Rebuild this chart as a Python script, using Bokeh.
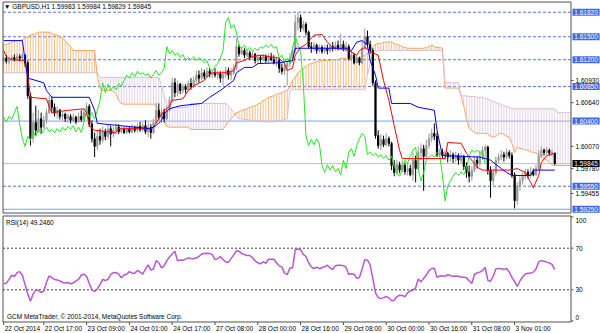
from bokeh.plotting import figure
from bokeh.layouts import column
from bokeh.models import Range1d, Label
from bokeh.embed import file_html
from bokeh.resources import INLINE

# ---------------- data ----------------
bars = list(range(1, 208))

opens = [1.6119, 1.6122, 1.6118, 1.6120, 1.6123, 1.6120, 1.6124, 1.6122, 1.6126, 1.6116,
         1.6073, 1.6017, 1.6038, 1.6028, 1.6043, 1.6032, 1.6041, 1.6051, 1.6067, 1.6058,
         1.6050, 1.6054, 1.6046, 1.6049, 1.6043, 1.6046, 1.6041, 1.6045, 1.6039, 1.6046,
         1.6042, 1.6051, 1.6059, 1.6036, 1.6017, 1.6007, 1.6020, 1.6015, 1.6026, 1.6020,
         1.6030, 1.6023, 1.6028, 1.6032, 1.6026, 1.6029, 1.6025, 1.6030, 1.6026, 1.6032,
         1.6028, 1.6033, 1.6029, 1.6034, 1.6026, 1.6032, 1.6025, 1.6038, 1.6054, 1.6045,
         1.6051, 1.6043, 1.6054, 1.6067, 1.6090, 1.6077, 1.6088, 1.6080, 1.6085, 1.6081,
         1.6089, 1.6085, 1.6093, 1.6100, 1.6096, 1.6103, 1.6098, 1.6105, 1.6101, 1.6103,
         1.6100, 1.6102, 1.6096, 1.6101, 1.6106, 1.6100, 1.6103, 1.6109, 1.6137, 1.6128,
         1.6132, 1.6126, 1.6129, 1.6123, 1.6127, 1.6119, 1.6123, 1.6120, 1.6124, 1.6119,
         1.6123, 1.6120, 1.6116, 1.6119, 1.6109, 1.6105, 1.6111, 1.6115, 1.6122, 1.6132,
         1.6169, 1.6175, 1.6161, 1.6166, 1.6156, 1.6137, 1.6135, 1.6139, 1.6132, 1.6136,
         1.6131, 1.6135, 1.6132, 1.6137, 1.6135, 1.6139, 1.6136, 1.6140, 1.6135, 1.6137,
         1.6122, 1.6126, 1.6116, 1.6122, 1.6116, 1.6135, 1.6150, 1.6140, 1.6132, 1.6090,
         1.6021, 1.6008, 1.6016, 1.6009, 1.6017, 1.6011, 1.5982, 1.5973, 1.5983, 1.5976,
         1.5982, 1.5974, 1.5978, 1.5970, 1.5989, 1.5978, 1.5999, 1.6004, 1.5994, 1.6008,
         1.6017, 1.6024, 1.6020, 1.5996, 1.6000, 1.5995, 1.5998, 1.5993, 1.5996, 1.5991,
         1.5995, 1.5989, 1.5994, 1.5981, 1.5973, 1.5968, 1.5976, 1.5989, 1.5985, 1.5995,
         1.6002, 1.6006, 1.5976, 1.5962, 1.5973, 1.5989, 1.5993, 1.5996, 1.5993, 1.5999,
         1.5995, 1.5970, 1.5936, 1.5955, 1.5962, 1.5968, 1.5973, 1.5969, 1.5974, 1.5970,
         1.5978, 1.5995, 1.6002, 1.5999, 1.6002, 1.5998, 1.59983]

highs = [1.6124, 1.6126, 1.6123, 1.6126, 1.6127, 1.6128, 1.6127, 1.6129, 1.6127, 1.6119,
         1.6077, 1.6051, 1.6060, 1.6054, 1.6051, 1.6047, 1.6056, 1.6073, 1.6072, 1.6063,
         1.6059, 1.6056, 1.6052, 1.6051, 1.6050, 1.6049, 1.6050, 1.6047, 1.6051, 1.6054,
         1.6056, 1.6064, 1.6062, 1.6041, 1.6025, 1.6028, 1.6030, 1.6033, 1.6030, 1.6036,
         1.6034, 1.6033, 1.6038, 1.6036, 1.6033, 1.6032, 1.6034, 1.6033, 1.6036, 1.6034,
         1.6037, 1.6039, 1.6038, 1.6041, 1.6038, 1.6036, 1.6043, 1.6064, 1.6063, 1.6056,
         1.6056, 1.6060, 1.6072, 1.6097, 1.6096, 1.6093, 1.6090, 1.6089, 1.6088, 1.6093,
         1.6096, 1.6098, 1.6106, 1.6106, 1.6109, 1.6107, 1.6110, 1.6109, 1.6107, 1.6109,
         1.6106, 1.6105, 1.6106, 1.6111, 1.6110, 1.6109, 1.6114, 1.6148, 1.6140, 1.6137,
         1.6135, 1.6133, 1.6132, 1.6131, 1.6129, 1.6127, 1.6126, 1.6128, 1.6127, 1.6128,
         1.6129, 1.6126, 1.6124, 1.6122, 1.6115, 1.6116, 1.6119, 1.6129, 1.6137, 1.6179,
         1.6182, 1.6179, 1.6171, 1.6169, 1.6158, 1.6143, 1.6143, 1.6141, 1.6140, 1.6139,
         1.6139, 1.6140, 1.6141, 1.6143, 1.6144, 1.6145, 1.6154, 1.6145, 1.6143, 1.6140,
         1.6132, 1.6129, 1.6126, 1.6124, 1.6145, 1.6161, 1.6158, 1.6145, 1.6135, 1.6093,
         1.6028, 1.6023, 1.6021, 1.6024, 1.6020, 1.6013, 1.5989, 1.5989, 1.5987, 1.5989,
         1.5986, 1.5985, 1.5983, 1.5999, 1.5995, 1.6007, 1.6011, 1.6009, 1.6015, 1.6024,
         1.6030, 1.6037, 1.6025, 1.6004, 1.6004, 1.6002, 1.6000, 1.6002, 1.5999, 1.6000,
         1.5998, 1.5999, 1.5996, 1.5986, 1.5982, 1.5981, 1.5995, 1.5994, 1.6002, 1.6007,
         1.6009, 1.6008, 1.5981, 1.5978, 1.5994, 1.5998, 1.6002, 1.6000, 1.6004, 1.6002,
         1.5999, 1.5973, 1.5960, 1.5968, 1.5973, 1.5978, 1.5977, 1.5980, 1.5978, 1.5983,
         1.6002, 1.6007, 1.6004, 1.6006, 1.6004, 1.6003, 1.59984]

lows = [1.6115, 1.6115, 1.6114, 1.6118, 1.6118, 1.6119, 1.6118, 1.6119, 1.6111, 1.6069,
        1.6008, 1.6012, 1.6021, 1.6025, 1.6023, 1.6030, 1.6036, 1.6049, 1.6051, 1.6046,
        1.6043, 1.6042, 1.6041, 1.6039, 1.6038, 1.6037, 1.6038, 1.6036, 1.6038, 1.6039,
        1.6039, 1.6047, 1.6032, 1.6012, 1.5993, 1.6002, 1.6009, 1.6011, 1.6015, 1.6016,
        1.6007, 1.6019, 1.6023, 1.6023, 1.6024, 1.6023, 1.6023, 1.6024, 1.6024, 1.6025,
        1.6025, 1.6026, 1.6026, 1.6023, 1.6019, 1.6017, 1.6023, 1.6036, 1.6041, 1.6037,
        1.6038, 1.6041, 1.6051, 1.6064, 1.6071, 1.6072, 1.6075, 1.6076, 1.6076, 1.6079,
        1.6081, 1.6083, 1.6089, 1.6090, 1.6093, 1.6094, 1.6096, 1.6097, 1.6096, 1.6097,
        1.6094, 1.6090, 1.6086, 1.6096, 1.6094, 1.6093, 1.6100, 1.6106, 1.6124, 1.6126,
        1.6122, 1.6123, 1.6120, 1.6120, 1.6115, 1.6116, 1.6116, 1.6118, 1.6116, 1.6116,
        1.6118, 1.6114, 1.6111, 1.6103, 1.6101, 1.6100, 1.6086, 1.6110, 1.6116, 1.6129,
        1.6158, 1.6156, 1.6157, 1.6152, 1.6135, 1.6129, 1.6131, 1.6128, 1.6129, 1.6128,
        1.6128, 1.6127, 1.6129, 1.6131, 1.6132, 1.6132, 1.6133, 1.6131, 1.6132, 1.6119,
        1.6118, 1.6114, 1.6115, 1.6113, 1.6114, 1.6132, 1.6136, 1.6128, 1.6086, 1.6017,
        1.6004, 1.6002, 1.6006, 1.6007, 1.6007, 1.5976, 1.5968, 1.5969, 1.5972, 1.5973,
        1.5970, 1.5969, 1.5968, 1.5962, 1.5960, 1.5976, 1.5989, 1.5949, 1.5991, 1.6004,
        1.6012, 1.6015, 1.5993, 1.5993, 1.5991, 1.5989, 1.5986, 1.5987, 1.5985, 1.5986,
        1.5983, 1.5985, 1.5976, 1.5966, 1.5960, 1.5962, 1.5973, 1.5978, 1.5981, 1.5989,
        1.5991, 1.5970, 1.5940, 1.5956, 1.5969, 1.5985, 1.5989, 1.5987, 1.5990, 1.5991,
        1.5966, 1.5926, 1.5931, 1.5949, 1.5957, 1.5964, 1.5965, 1.5966, 1.5968, 1.5968,
        1.5976, 1.5991, 1.5995, 1.5996, 1.5995, 1.5994, 1.59829]

closes = [1.6122, 1.6118, 1.6120, 1.6123, 1.6120, 1.6124, 1.6122, 1.6126, 1.6116, 1.6073,
          1.6017, 1.6038, 1.6028, 1.6043, 1.6032, 1.6041, 1.6051, 1.6067, 1.6058, 1.6050,
          1.6054, 1.6046, 1.6049, 1.6043, 1.6046, 1.6041, 1.6045, 1.6039, 1.6046, 1.6042,
          1.6051, 1.6059, 1.6036, 1.6017, 1.6007, 1.6020, 1.6015, 1.6026, 1.6020, 1.6030,
          1.6023, 1.6028, 1.6032, 1.6026, 1.6029, 1.6025, 1.6030, 1.6026, 1.6032, 1.6028,
          1.6033, 1.6029, 1.6034, 1.6026, 1.6032, 1.6025, 1.6038, 1.6054, 1.6045, 1.6051,
          1.6043, 1.6054, 1.6067, 1.6090, 1.6077, 1.6088, 1.6080, 1.6085, 1.6081, 1.6089,
          1.6085, 1.6093, 1.6100, 1.6096, 1.6103, 1.6098, 1.6105, 1.6101, 1.6103, 1.6100,
          1.6102, 1.6096, 1.6101, 1.6106, 1.6100, 1.6103, 1.6109, 1.6137, 1.6128, 1.6132,
          1.6126, 1.6129, 1.6123, 1.6127, 1.6119, 1.6123, 1.6120, 1.6124, 1.6119, 1.6123,
          1.6120, 1.6116, 1.6119, 1.6109, 1.6105, 1.6111, 1.6115, 1.6122, 1.6132, 1.6169,
          1.6175, 1.6161, 1.6166, 1.6156, 1.6137, 1.6135, 1.6139, 1.6132, 1.6136, 1.6131,
          1.6135, 1.6132, 1.6137, 1.6135, 1.6139, 1.6136, 1.6140, 1.6135, 1.6137, 1.6122,
          1.6126, 1.6116, 1.6122, 1.6116, 1.6135, 1.6150, 1.6140, 1.6132, 1.6090, 1.6021,
          1.6008, 1.6016, 1.6009, 1.6017, 1.6011, 1.5982, 1.5973, 1.5983, 1.5976, 1.5982,
          1.5974, 1.5978, 1.5970, 1.5989, 1.5978, 1.5999, 1.6004, 1.5994, 1.6008, 1.6017,
          1.6024, 1.6020, 1.5996, 1.6000, 1.5995, 1.5998, 1.5993, 1.5996, 1.5991, 1.5995,
          1.5989, 1.5994, 1.5981, 1.5973, 1.5968, 1.5976, 1.5989, 1.5985, 1.5995, 1.6002,
          1.6006, 1.5976, 1.5962, 1.5973, 1.5989, 1.5993, 1.5996, 1.5993, 1.5999, 1.5995,
          1.5970, 1.5936, 1.5955, 1.5962, 1.5968, 1.5973, 1.5969, 1.5974, 1.5970, 1.5978,
          1.5995, 1.6002, 1.5999, 1.6002, 1.5998, 1.5999, 1.59845]

# Tenkan-sen (red) vertices: bar index, price
tenkan_bar = [1, 2, 4, 9, 10, 11, 17, 18, 19, 25, 31, 32, 33, 35, 43, 44, 56, 57, 59, 61,
              63, 64, 68, 70, 72, 76, 77, 79, 85, 87, 88, 91, 93, 97, 104, 106, 107, 109, 110, 112,
              114, 117, 120, 122, 124, 130, 133, 134, 136, 139, 141, 143, 145, 147, 149, 150, 166, 167, 172, 174,
              175, 178, 180, 190, 193, 196, 198, 199, 201, 202, 204, 207]
tenkan_val = [1.6132, 1.6124, 1.6120, 1.6119, 1.6100, 1.6071, 1.6069, 1.6059, 1.6051, 1.6054,
              1.6056, 1.6051, 1.6034, 1.6028, 1.6025, 1.6030, 1.6030, 1.6032, 1.6043, 1.6054,
              1.6059, 1.6067, 1.6069, 1.6080, 1.6086, 1.6093, 1.6098, 1.6103, 1.6103, 1.6106,
              1.6116, 1.6119, 1.6123, 1.6126, 1.6122, 1.6115, 1.6106, 1.6109, 1.6126, 1.6136,
              1.6140, 1.6152, 1.6153, 1.6143, 1.6136, 1.6132, 1.6126, 1.6132, 1.6136, 1.6129,
              1.6126, 1.6093, 1.6067, 1.6034, 1.6002, 1.5991, 1.5991, 1.6012, 1.6011, 1.5998,
              1.5993, 1.5980, 1.5976, 1.5976, 1.5978, 1.5973, 1.5960, 1.5953, 1.5969, 1.5986,
              1.5995, 1.5998]

# Kijun-sen (blue) vertices: bar index, price
kijun_bar = [1, 8, 9, 10, 16, 17, 19, 33, 35, 36, 56, 58, 60, 61, 63, 67, 75, 78, 82, 87,
             88, 91, 94, 96, 104, 109, 110, 129, 131, 133, 135, 137, 138, 140, 141, 145, 146, 153, 156, 162,
             163, 165, 179, 183, 187, 189, 191, 198, 199, 207]
kijun_val = [1.6145, 1.6145, 1.6119, 1.6096, 1.6090, 1.6080, 1.6071, 1.6071, 1.6054, 1.6037,
             1.6030, 1.6034, 1.6041, 1.6050, 1.6056, 1.6060, 1.6063, 1.6071, 1.6080, 1.6093,
             1.6103, 1.6110, 1.6110, 1.6115, 1.6116, 1.6119, 1.6135, 1.6135, 1.6132, 1.6143,
             1.6145, 1.6139, 1.6119, 1.6100, 1.6083, 1.6083, 1.6063, 1.6063, 1.6058, 1.6054,
             1.6028, 1.5995, 1.5993, 1.5989, 1.5978, 1.5973, 1.5969, 1.5969, 1.5976, 1.5976]

# Chikou span (green): closes drawn 26 bars back, bars 1..181
chikou_bar = list(range(1, 182))
chikou_val = [1.6045, 1.6039, 1.6046, 1.6042,
              1.6051, 1.6059, 1.6036, 1.6017, 1.6007, 1.6020, 1.6015, 1.6026, 1.6020, 1.6030,
              1.6023, 1.6028, 1.6032, 1.6026, 1.6029, 1.6025, 1.6030, 1.6026, 1.6032, 1.6028,
              1.6033, 1.6029, 1.6034, 1.6026, 1.6032, 1.6025, 1.6038, 1.6054, 1.6045, 1.6051,
              1.6043, 1.6054, 1.6067, 1.6090, 1.6077, 1.6088, 1.6080, 1.6085, 1.6081, 1.6089,
              1.6085, 1.6093, 1.6100, 1.6096, 1.6103, 1.6098, 1.6105, 1.6101, 1.6103, 1.6100,
              1.6102, 1.6096, 1.6101, 1.6106, 1.6100, 1.6103, 1.6109, 1.6137, 1.6128, 1.6132,
              1.6126, 1.6129, 1.6123, 1.6127, 1.6119, 1.6123, 1.6120, 1.6124, 1.6119, 1.6123,
              1.6120, 1.6116, 1.6119, 1.6109, 1.6105, 1.6111, 1.6115, 1.6122, 1.6132, 1.6169,
              1.6175, 1.6161, 1.6166, 1.6156, 1.6137, 1.6135, 1.6139, 1.6132, 1.6136, 1.6131,
              1.6135, 1.6132, 1.6137, 1.6135, 1.6139, 1.6136, 1.6140, 1.6135, 1.6137, 1.6122,
              1.6126, 1.6116, 1.6122, 1.6116, 1.6135, 1.6150, 1.6140, 1.6132, 1.6090, 1.6021,
              1.6008, 1.6016, 1.6009, 1.6017, 1.6011, 1.5982, 1.5973, 1.5983, 1.5976, 1.5982,
              1.5974, 1.5978, 1.5970, 1.5989, 1.5978, 1.5999, 1.6004, 1.5994, 1.6008, 1.6017,
              1.6024, 1.6020, 1.5996, 1.6000, 1.5995, 1.5998, 1.5993, 1.5996, 1.5991, 1.5995,
              1.5989, 1.5994, 1.5981, 1.5973, 1.5968, 1.5976, 1.5989, 1.5985, 1.5995, 1.6002,
              1.6006, 1.5976, 1.5962, 1.5973, 1.5989, 1.5993, 1.5996, 1.5993, 1.5999, 1.5995,
              1.5970, 1.5936, 1.5955, 1.5962, 1.5968, 1.5973, 1.5969, 1.5974, 1.5970, 1.5978,
              1.5995, 1.6002, 1.5999, 1.6002, 1.5998, 1.5999, 1.59845]

# Senkou spans (cloud), bars 1..213
cloud_bar = list(range(1, 214))
span_a = [1.6139, 1.6140, 1.6141, 1.6143, 1.6144, 1.6145, 1.6145, 1.6146, 1.6148, 1.6150,
          1.6152, 1.6153, 1.6154, 1.6156, 1.6156, 1.6156, 1.6156, 1.6156, 1.6154, 1.6153,
          1.6152, 1.6150, 1.6148, 1.6145, 1.6141, 1.6137, 1.6132, 1.6132, 1.6132, 1.6132,
          1.6132, 1.6132, 1.6132, 1.6132, 1.6132, 1.6098, 1.6083, 1.6080, 1.6080, 1.6080,
          1.6080, 1.6079, 1.6075, 1.6067, 1.6063, 1.6062, 1.6062, 1.6062, 1.6062, 1.6062,
          1.6062, 1.6062, 1.6062, 1.6062, 1.6062, 1.6062, 1.6062, 1.6060, 1.6054, 1.6047,
          1.6041, 1.6033, 1.6032, 1.6032, 1.6032, 1.6032, 1.6032, 1.6032, 1.6032, 1.6032,
          1.6029, 1.6029, 1.6029, 1.6029, 1.6029, 1.6029, 1.6029, 1.6029, 1.6029, 1.6029,
          1.6029, 1.6029, 1.6029, 1.6034, 1.6039, 1.6043, 1.6047, 1.6051, 1.6052, 1.6054,
          1.6055, 1.6056, 1.6058, 1.6059, 1.6060, 1.6062, 1.6064, 1.6067, 1.6068, 1.6071,
          1.6072, 1.6073, 1.6075, 1.6076, 1.6077, 1.6079, 1.6080, 1.6085, 1.6093, 1.6097,
          1.6103, 1.6106, 1.6109, 1.6111, 1.6114, 1.6115, 1.6116, 1.6118, 1.6118, 1.6119,
          1.6119, 1.6119, 1.6119, 1.6120, 1.6120, 1.6120, 1.6122, 1.6122, 1.6122, 1.6122,
          1.6122, 1.6122, 1.6122, 1.6123, 1.6124, 1.6126, 1.6129, 1.6133, 1.6137, 1.6140,
          1.6141, 1.6141, 1.6143, 1.6143, 1.6143, 1.6143, 1.6141, 1.6140, 1.6139, 1.6137,
          1.6136, 1.6135, 1.6135, 1.6135, 1.6135, 1.6135, 1.6135, 1.6135, 1.6136, 1.6137,
          1.6139, 1.6137, 1.6136, 1.6136, 1.6135, 1.6083, 1.6083, 1.6083, 1.6083, 1.6083,
          1.6083, 1.6073, 1.6060, 1.6043, 1.6030, 1.6028, 1.6025, 1.6024, 1.6024, 1.6024,
          1.6024, 1.6023, 1.6020, 1.6019, 1.6020, 1.6023, 1.6024, 1.6023, 1.6020, 1.6019,
          1.6011, 1.5999, 1.6006, 1.6004, 1.6004, 1.6002, 1.6002, 1.6000, 1.5999, 1.5998,
          1.5996, 1.5995, 1.5991, 1.5989, 1.5986, 1.5983, 1.5982, 1.5982, 1.5982, 1.5982,
          1.5982, 1.5982, 1.5982]
span_b = [1.6103, 1.6103, 1.6103, 1.6103, 1.6103, 1.6103, 1.6103, 1.6103, 1.6103, 1.6103,
          1.6103, 1.6103, 1.6103, 1.6103, 1.6103, 1.6103, 1.6103, 1.6103, 1.6103, 1.6103,
          1.6103, 1.6103, 1.6103, 1.6103, 1.6103, 1.6103, 1.6103, 1.6103, 1.6103, 1.6103,
          1.6103, 1.6103, 1.6103, 1.6103, 1.6103, 1.6103, 1.6097, 1.6097, 1.6097, 1.6097,
          1.6097, 1.6097, 1.6097, 1.6097, 1.6097, 1.6097, 1.6097, 1.6097, 1.6097, 1.6097,
          1.6097, 1.6097, 1.6097, 1.6097, 1.6097, 1.6097, 1.6097, 1.6097, 1.6097, 1.6086,
          1.6073, 1.6062, 1.6058, 1.6058, 1.6058, 1.6058, 1.6058, 1.6058, 1.6058, 1.6058,
          1.6063, 1.6063, 1.6063, 1.6063, 1.6063, 1.6063, 1.6063, 1.6063, 1.6063, 1.6063,
          1.6063, 1.6063, 1.6063, 1.6063, 1.6060, 1.6056, 1.6051, 1.6046, 1.6043, 1.6043,
          1.6042, 1.6042, 1.6041, 1.6041, 1.6041, 1.6041, 1.6039, 1.6039, 1.6039, 1.6039,
          1.6039, 1.6039, 1.6039, 1.6041, 1.6041, 1.6042, 1.6043, 1.6080, 1.6081, 1.6081,
          1.6081, 1.6081, 1.6081, 1.6081, 1.6081, 1.6081, 1.6081, 1.6081, 1.6081, 1.6081,
          1.6081, 1.6081, 1.6081, 1.6081, 1.6081, 1.6081, 1.6081, 1.6081, 1.6081, 1.6081,
          1.6081, 1.6081, 1.6081, 1.6081, 1.6081, 1.6081, 1.6100, 1.6116, 1.6126, 1.6131,
          1.6132, 1.6132, 1.6132, 1.6132, 1.6132, 1.6132, 1.6132, 1.6132, 1.6132, 1.6132,
          1.6132, 1.6132, 1.6132, 1.6132, 1.6132, 1.6132, 1.6132, 1.6132, 1.6132, 1.6132,
          1.6132, 1.6132, 1.6132, 1.6132, 1.6132, 1.6090, 1.6090, 1.6090, 1.6090, 1.6090,
          1.6090, 1.6073, 1.6073, 1.6073, 1.6072, 1.6072, 1.6072, 1.6071, 1.6071, 1.6071,
          1.6069, 1.6069, 1.6067, 1.6066, 1.6064, 1.6063, 1.6062, 1.6060, 1.6059, 1.6058,
          1.6056, 1.6056, 1.6056, 1.6056, 1.6056, 1.6056, 1.6056, 1.6056, 1.6056, 1.6056,
          1.6056, 1.6056, 1.6056, 1.6056, 1.6056, 1.6056, 1.6056, 1.6051, 1.6051, 1.6051,
          1.6051, 1.6051, 1.6051]

rsi = [35.8, 36.4, 40.0, 44.0, 42.8, 46.5, 47.5, 44.0, 35.0, 26.0,
       19.0, 26.0, 30.0, 29.4, 27.4, 28.7, 37.0, 43.4, 41.8, 40.0,
       39.5, 38.5, 37.0, 36.6, 37.0, 35.8, 36.5, 38.5, 40.0, 44.0,
       45.0, 43.0, 36.0, 30.0, 28.5, 30.6, 35.0, 40.0, 39.0, 40.0,
       44.7, 46.5, 46.6, 45.0, 41.5, 44.3, 45.0, 47.5, 46.0, 46.0,
       48.6, 47.0, 45.0, 50.0, 54.0, 49.0, 50.0, 58.0, 56.0, 51.1,
       53.0, 58.0, 61.5, 64.5, 67.0, 58.0, 58.7, 58.4, 59.5, 60.7,
       60.0, 59.8, 60.5, 62.0, 64.4, 64.9, 65.2, 64.8, 63.8, 59.0,
       60.0, 62.0, 59.0, 57.0, 56.3, 60.0, 63.5, 67.5, 67.0, 64.8,
       64.0, 63.0, 63.0, 61.0, 57.7, 56.0, 55.0, 57.0, 55.5, 59.4,
       59.4, 59.4, 56.0, 53.0, 52.0, 46.0, 44.5, 51.0, 51.0, 68.5,
       69.2, 68.4, 64.0, 62.0, 56.0, 52.0, 50.5, 51.8, 50.5, 51.2,
       52.2, 53.7, 51.0, 49.5, 53.2, 53.6, 53.7, 53.2, 51.5, 44.7,
       45.5, 45.0, 41.0, 41.8, 50.0, 59.0, 58.5, 54.0, 41.0, 27.0,
       22.5, 21.5, 22.5, 23.6, 22.3, 19.5, 20.0, 23.5, 24.8, 24.6,
       23.3, 27.0, 29.0, 29.5, 32.0, 40.5, 37.6, 41.0, 44.0, 48.5,
       50.5, 50.6, 42.0, 43.3, 43.5, 43.0, 44.7, 43.5, 43.0, 43.2,
       43.0, 42.0, 42.0, 41.5, 38.5, 36.0, 44.7, 46.3, 47.0, 48.5,
       51.5, 39.0, 38.3, 43.0, 50.0, 50.6, 50.2, 49.6, 50.5, 47.0,
       42.0, 38.0, 33.2, 38.5, 42.5, 45.0, 46.0, 46.0, 47.0, 50.0,
       56.8, 58.0, 57.5, 56.6, 55.8, 54.5, 49.246]

tick_bars = [1, 16, 32, 48, 64, 80, 96, 112, 128, 144, 160, 176, 192]
tick_labels = ["22 Oct 2014", "22 Oct 17:00", "23 Oct 09:00", "24 Oct 01:00", "24 Oct 17:00",
               "27 Oct 08:00", "28 Oct 00:00", "28 Oct 16:00", "29 Oct 08:00", "30 Oct 00:00",
               "30 Oct 16:00", "31 Oct 08:00", "3 Nov 01:00"]

dashed_levels = [1.61820, 1.61500, 1.61200, 1.60850, 1.59550]
solid_levels = [1.60400, 1.59250]
box_levels = [1.61820, 1.61500, 1.61200, 1.60850, 1.60400, 1.59550, 1.59250]
plain_levels = [1.60930, 1.60640, 1.60070, 1.59780, 1.59455]
bid_level = 1.59845
last_ohlc = ["1.59983", "1.59984", "1.59829", "1.59845"]
rsi_last = "49.2460"
rsi_levels = [30, 70]
rsi_scale = [100, 70, 30, 0]

# ---------------- layout constants ----------------
FONT = "Liberation Sans"
FS = "6.5px"
X_RANGE = (-0.187, 224.11)        # whole 600 px canvas
BL, BR = 0.748, 213.08            # chart border (left / right)
P_RANGE = (1.59181, 1.61973)      # whole main canvas height
P_TOP, P_BOT = 1.61953, 1.59200   # main chart border
R_RANGE = (-12.02, 102.40)        # whole RSI canvas height
R_TOP, R_BOT = 100.96, -0.96      # RSI panel border
BORDER = "#505050"
TICK_W = 0.93                     # tick mark length (in bars)

xr = Range1d(*X_RANGE)


def base_fig(h, yr):
    f = figure(width=600, height=h, x_range=xr, y_range=Range1d(*yr),
               output_backend="svg", toolbar_location=None, title=None,
               x_axis_location=None, y_axis_location=None,
               min_border_left=0, min_border_right=0, min_border_top=0, min_border_bottom=0)
    f.grid.visible = False
    f.outline_line_color = None
    f.background_fill_color = "white"
    f.border_fill_color = "white"
    return f


def lab(f, x, y, text, xo=0, yo=0, color="#000000", bg=None):
    kw = dict(x=x, y=y, x_offset=xo, y_offset=yo, text=text, text_font=FONT, text_font_size=FS,
              text_color=color, text_align="left", text_baseline="middle")
    if bg is not None:
        kw["background_fill_color"] = bg
    f.add_layout(Label(**kw))


# ---------------- main panel ----------------
p = base_fig(214, P_RANGE)

# horizontal price lines
for lv in dashed_levels:
    p.segment(x0=[BL], y0=[lv], x1=[BR], y1=[lv], line_color="#5078E0", line_width=1, line_dash="3 2")
for lv in solid_levels:
    p.segment(x0=[BL], y0=[lv], x1=[BR], y1=[lv], line_color="#86A0EA", line_width=1)
p.segment(x0=[BL], y0=[bid_level], x1=[BR], y1=[bid_level], line_color="#C0C0C0", line_width=1)

# cloud hatch
hc = ["#F4A460" if a >= s else "#D8BFD8" for a, s in zip(span_a, span_b)]
p.segment(x0=cloud_bar, y0=span_a, x1=cloud_bar, y1=span_b, line_color=hc, line_width=1, line_alpha=0.7)
p.line(cloud_bar, span_a, line_color="#F4A460", line_width=1)
p.line(cloud_bar, span_b, line_color="#D8BFD8", line_width=1)

# candles
cols = ["#9A9A9A" if c >= o else "#000000" for o, c in zip(opens, closes)]
tops = [max(o, c) for o, c in zip(opens, closes)]
bots = [min(o, c) for o, c in zip(opens, closes)]
p.segment(x0=bars, y0=lows, x1=bars, y1=highs, line_color=cols, line_width=1)
p.vbar(x=bars, width=0.45, top=tops, bottom=bots, fill_color=cols, line_color=cols, line_width=1)

# ichimoku lines
p.line(chikou_bar, chikou_val, line_color="#22E822", line_width=1)
p.line(tenkan_bar, tenkan_val, line_color="#FF0000", line_width=1)
p.line(kijun_bar, kijun_val, line_color="#0000FF", line_width=1)

# border
p.quad(left=[BL], right=[BR], top=[P_TOP], bottom=[P_BOT], fill_color=None,
       line_color=BORDER, line_width=1)

# price scale (right)
p.segment(x0=[BR] * len(plain_levels), y0=plain_levels, x1=[BR + TICK_W] * len(plain_levels),
          y1=plain_levels, line_color=BORDER, line_width=1)
for lv in plain_levels:
    lab(p, BR, lv, "%.5f" % lv, xo=4.5)
for lv in box_levels:
    lab(p, BR, lv, "\u00A0%.5f\u00A0" % lv, xo=1.5, color="white", bg="#4169E1")
lab(p, BR, bid_level, "\u00A0%.5f\u00A0" % bid_level, xo=1.5, color="white", bg="#000000")

lab(p, BL, P_TOP, "\u25BC GBPUSD,H1  " + " ".join(last_ohlc), xo=1, yo=-4.5)

# ---------------- RSI panel ----------------
r = base_fig(119, R_RANGE)
for lv in rsi_levels:
    r.segment(x0=[BL], y0=[lv], x1=[BR], y1=[lv], line_color="#404040", line_width=1, line_dash="2 2")
r.line(bars, rsi, line_color="#BA55D3", line_width=1.5)
r.quad(left=[BL], right=[BR], top=[R_TOP], bottom=[R_BOT], fill_color=None,
       line_color=BORDER, line_width=1)

# RSI scale
r.segment(x0=[BR] * 4, y0=rsi_scale, x1=[BR + TICK_W] * 4, y1=rsi_scale, line_color=BORDER, line_width=1)
lab(r, BR, 100, "100", xo=4.5, yo=-3.5)
lab(r, BR, 70, "70", xo=4.5)
lab(r, BR, 30, "30", xo=4.5)
lab(r, BR, 0, "0", xo=4.5, yo=3.8)

# time scale
r.segment(x0=tick_bars, y0=[R_BOT] * len(tick_bars), x1=tick_bars, y1=[R_BOT - 2.9] * len(tick_bars),
          line_color=BORDER, line_width=1)
for tb, tl in zip(tick_bars, tick_labels):
    lab(r, tb, R_BOT, tl, xo=1, yo=-6.5)

lab(r, BL, R_TOP, "RSI(14) " + rsi_last, xo=3, yo=-6.5)
lab(r, BL, R_BOT, "GCM MetaTrader, \u00A9 2001-2014, MetaQuotes Software Corp.", xo=4, yo=5.5)

layout = column(p, r)
open("out.html", "w").write(file_html(layout, INLINE))
